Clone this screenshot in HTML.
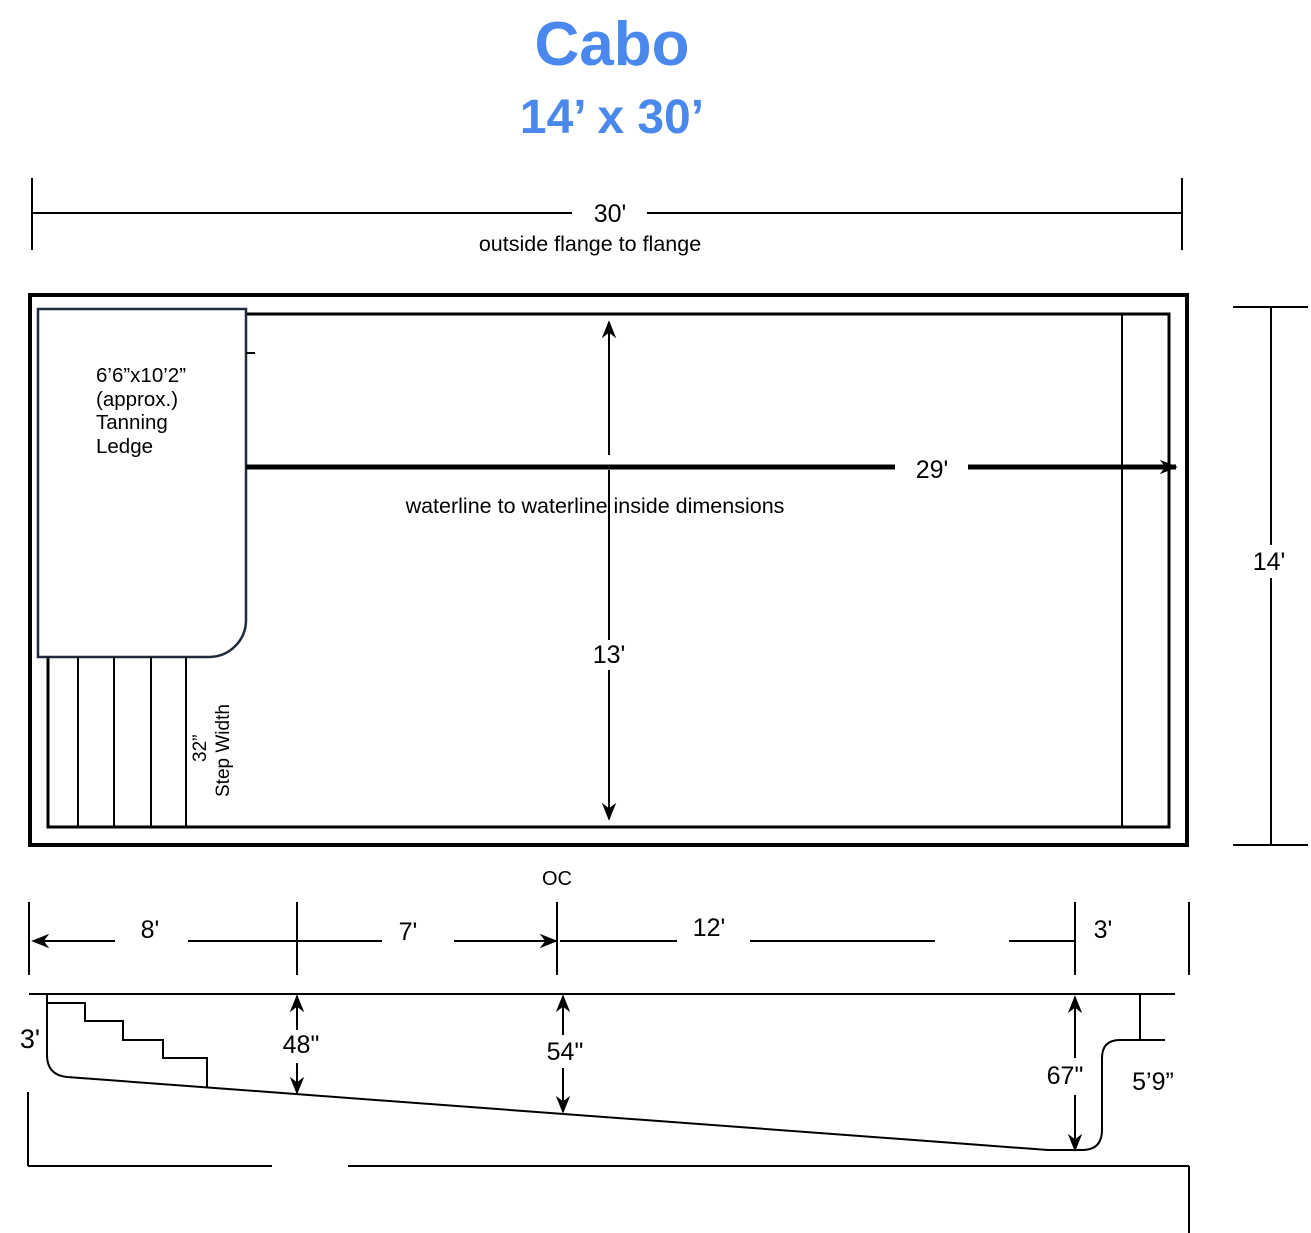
<!DOCTYPE html>
<html><head><style>body{margin:0;background:#fff}svg{display:block}text{font-family:"Liberation Sans",Arial,sans-serif}</style></head><body>
<svg width="1311" height="1233" viewBox="0 0 1311 1233" xmlns="http://www.w3.org/2000/svg">
<defs>
<marker id="b" viewBox="0 0 10 10" refX="9" refY="5" markerWidth="18" markerHeight="18" orient="auto-start-reverse" markerUnits="userSpaceOnUse"><path d="M0,1L10,5L0,9L3,5z" fill="#000"/></marker></defs>
<text x="612" y="65" font-size="62" font-weight="bold" fill="#4a88ee" text-anchor="middle">Cabo</text>
<text x="612" y="133" font-size="48" font-weight="bold" fill="#4a88ee" text-anchor="middle">14’ x 30’</text>
<g stroke="#000" stroke-width="2" fill="none">
<line x1="32" y1="178" x2="32" y2="250"/><line x1="1182" y1="178" x2="1182" y2="250"/>
<line x1="32" y1="213" x2="572" y2="213"/><line x1="647" y1="213" x2="1182" y2="213"/>
<rect x="30" y="295" width="1157" height="550" stroke-width="4"/>
<rect x="48" y="314" width="1121" height="513" stroke-width="3"/>
<line x1="1122" y1="314" x2="1122" y2="827"/>
<path d="M38,309H246V620A37,37 0 0 1 209,657H38Z" stroke="#1f2a3a" stroke-width="2.5" fill="#fff"/>
<line x1="246" y1="353" x2="255" y2="353"/>
<line x1="78" y1="657" x2="78" y2="827"/><line x1="114" y1="657" x2="114" y2="827"/><line x1="151" y1="657" x2="151" y2="827"/><line x1="186" y1="657" x2="186" y2="827"/>
<line x1="246" y1="467" x2="895" y2="467" stroke-width="5"/>
<line x1="968" y1="467" x2="1176" y2="467" stroke-width="5" marker-end="url(#b)"/>
<line x1="609" y1="322" x2="609" y2="455" marker-start="url(#b)"/>
<line x1="609" y1="470" x2="609" y2="640"/>
<line x1="609" y1="670" x2="609" y2="819" marker-end="url(#b)"/>
<line x1="1233" y1="307" x2="1308" y2="307"/><line x1="1233" y1="845" x2="1308" y2="845"/>
<line x1="1271" y1="307" x2="1271" y2="545"/><line x1="1271" y1="578" x2="1271" y2="845"/>
<line x1="29" y1="902" x2="29" y2="975"/><line x1="297" y1="902" x2="297" y2="975"/><line x1="557" y1="902" x2="557" y2="975"/><line x1="1075" y1="902" x2="1075" y2="975"/><line x1="1189" y1="902" x2="1189" y2="975"/>
<line x1="115" y1="941" x2="33" y2="941" marker-end="url(#b)"/>
<line x1="188" y1="941" x2="382" y2="941"/>
<line x1="454" y1="941" x2="556" y2="941" marker-end="url(#b)"/>
<line x1="560" y1="941" x2="677" y2="941"/><line x1="750" y1="941" x2="935" y2="941"/><line x1="1009" y1="941" x2="1075" y2="941"/>
<line x1="29" y1="994" x2="1175" y2="994"/>
<path d="M47,994V1055Q47,1075 67,1077L1048,1150H1082Q1102,1150 1102,1130V1058Q1102,1040 1120,1040H1165"/>
<line x1="1140" y1="994" x2="1140" y2="1040"/>
<path d="M47,1003H85V1021H123V1040H163V1058H207V1087"/>
<line x1="297" y1="1030" x2="297" y2="996" marker-end="url(#b)"/>
<line x1="297" y1="1063" x2="297" y2="1093" marker-end="url(#b)"/>
<line x1="563" y1="1035" x2="563" y2="996" marker-end="url(#b)"/>
<line x1="563" y1="1068" x2="563" y2="1112" marker-end="url(#b)"/>
<line x1="1075" y1="1058" x2="1075" y2="997" marker-end="url(#b)"/>
<line x1="1075" y1="1095" x2="1075" y2="1150" marker-end="url(#b)"/>
<line x1="28" y1="1092" x2="28" y2="1166"/>
<line x1="28" y1="1166" x2="272" y2="1166"/><line x1="348" y1="1166" x2="1189" y2="1166"/>
<line x1="1189" y1="1166" x2="1189" y2="1233"/>
</g>
<g fill="#000" font-size="25" text-anchor="middle">
<text x="610" y="222">30'</text>
<text x="590" y="251" font-size="21.5">outside flange to flange</text>
<text x="932" y="478">29'</text>
<text x="595" y="513" font-size="21.5">waterline to waterline inside dimensions</text>
<text x="609" y="663">13'</text>
<text x="1269" y="570">14'</text>
<text x="557" y="885" font-size="20">OC</text>
<text x="150" y="938">8'</text><text x="408" y="940">7'</text><text x="709" y="936">12'</text><text x="1103" y="938">3'</text>
<text x="30" y="1048" font-size="27">3'</text>
<text x="301" y="1053">48"</text><text x="565" y="1060">54"</text><text x="1065" y="1084">67"</text>
<text x="1153" y="1090">5’9”</text>
</g>
<g fill="#000" font-size="20.5">
<text x="96" y="382">6’6”x10’2”</text><text x="96" y="406">(approx.)</text><text x="96" y="429">Tanning</text><text x="96" y="453">Ledge</text>
<text transform="translate(206,762) rotate(-90)" font-size="19">32”</text>
<text transform="translate(229,797) rotate(-90)" font-size="19">Step Width</text>
</g>
</svg>
</body></html>
